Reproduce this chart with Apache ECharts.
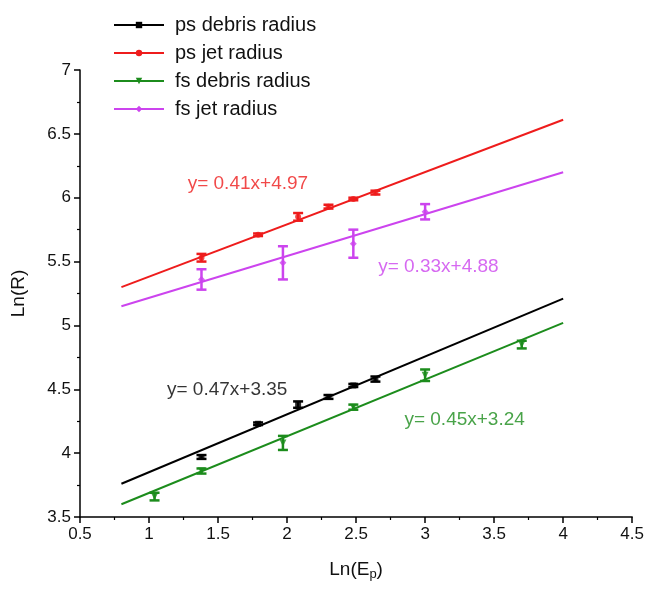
<!DOCTYPE html>
<html>
<head>
<meta charset="utf-8">
<script src="https://cdn.jsdelivr.net/npm/echarts@6/dist/echarts.min.js"></script>
<style>
  html, body { margin: 0; padding: 0; background: #fff; }
  #chart { width: 647px; height: 589px; }
</style>
</head>
<body>
<div id="chart"></div>
<script>
const chart = echarts.init(document.getElementById('chart'))

// measured points: x, y, error (+/-)
const psDebrisX = [1.38, 1.79, 2.08, 2.30, 2.48, 2.64]
const psDebrisY = [3.97, 4.23, 4.38, 4.44, 4.53, 4.58]
const psDebrisErr = [0.015, 0.01, 0.025, 0.015, 0.012, 0.02]

const psJetX = [1.38, 1.79, 2.08, 2.30, 2.48, 2.64]
const psJetY = [5.53, 5.71, 5.85, 5.93, 5.99, 6.04]
const psJetErr = [0.03, 0.01, 0.03, 0.015, 0.01, 0.015]

const fsDebrisX = [1.04, 1.38, 1.97, 2.48, 3.00, 3.70]
const fsDebrisY = [3.66, 3.86, 4.08, 4.36, 4.61, 4.85]
const fsDebrisErr = [0.03, 0.02, 0.055, 0.02, 0.045, 0.03]

const fsJetX = [1.38, 1.97, 2.48, 3.00]
const fsJetY = [5.36, 5.49, 5.64, 5.89]
const fsJetErr = [0.08, 0.13, 0.11, 0.06]

// fitted lines, endpoints
const fitX = [0.8, 4.0]
const psDebrisFit = [3.76, 5.21]
const psJetFit = [5.30, 6.61]
const fsDebrisFit = [3.60, 5.02]
const fsJetFit = [5.15, 6.20]

const fitLabels = ['y= 0.47x+3.35', 'y= 0.41x+4.97', 'y= 0.45x+3.24', 'y= 0.33x+4.88']
// label anchor points in data coords (left edge, vertical middle)
const labelPos = [[1.13, 4.50], [1.28, 6.11], [2.85, 4.26], [2.66, 5.46]]

const names = ['ps debris radius', 'ps jet radius', 'fs debris radius', 'fs jet radius']
const colors = ['#000000', '#ee1c1c', '#1c8c1c', '#cc44ee']
const symbols = ['rect', 'circle', 'path://M0,0L10,0L5,10Z', 'diamond']
const symSizes = [6, 6, 7, 7]

const sets = [
  [psDebrisX, psDebrisY, psDebrisErr, psDebrisFit],
  [psJetX, psJetY, psJetErr, psJetFit],
  [fsDebrisX, fsDebrisY, fsDebrisErr, fsDebrisFit],
  [fsJetX, fsJetY, fsJetErr, fsJetFit]
]

const font = 'Liberation Sans'
const series = []

sets.forEach(([xs, ys, errs, fit], i) => {
  series.push({
    name: names[i],
    type: 'line',
    data: fitX.map((x, k) => [x, fit[k]]),
    symbol: symbols[i],
    symbolSize: symSizes[i],
    showSymbol: false,
    lineStyle: { color: colors[i], width: 2 },
    itemStyle: { color: colors[i] },
    silent: true,
    z: 2
  })
  series.push({
    name: names[i],
    type: 'scatter',
    data: xs.map((x, k) => [x, ys[k]]),
    symbol: symbols[i],
    symbolSize: symSizes[i],
    itemStyle: { color: colors[i] },
    z: 4
  })
  series.push({
    name: names[i],
    type: 'custom',
    data: xs.map((x, k) => [x, ys[k] - errs[k], ys[k] + errs[k]]),
    renderItem: function (params, api) {
      const lo = api.coord([api.value(0), api.value(1)])
      const hi = api.coord([api.value(0), api.value(2)])
      const w = 5
      const st = { stroke: colors[i], lineWidth: 2.5 }
      return {
        type: 'group',
        children: [
          { type: 'line', shape: { x1: lo[0], y1: lo[1], x2: hi[0], y2: hi[1] }, style: st },
          { type: 'line', shape: { x1: lo[0] - w, y1: lo[1], x2: lo[0] + w, y2: lo[1] }, style: st },
          { type: 'line', shape: { x1: hi[0] - w, y1: hi[1], x2: hi[0] + w, y2: hi[1] }, style: st }
        ]
      }
    },
    z: 3
  })
  series.push({
    type: 'scatter',
    data: [labelPos[i]],
    symbolSize: 0,
    silent: true,
    label: {
      show: true,
      position: 'right',
      distance: 0,
      formatter: fitLabels[i],
      color: colors[i],
      fontFamily: font,
      fontSize: 19
    }
  })
})

chart.setOption({
  backgroundColor: '#ffffff',
  animation: false,
  grid: { left: 80, right: 13, top: 70, bottom: 72 },
  legend: {
    data: names,
    orient: 'vertical',
    left: 108,
    top: 10,
    itemWidth: 50,
    itemHeight: 8,
    itemGap: 8,
    textStyle: { fontFamily: font, fontSize: 20, color: '#111', padding: [0, 0, 0, 6] }
  },
  xAxis: {
    type: 'value',
    min: 0.5,
    max: 4.5,
    interval: 0.5,
    name: '{a|Ln(E}{b|p}{a|)}',
    nameLocation: 'middle',
    nameGap: 41,
    nameTextStyle: {
      rich: {
        a: { fontFamily: font, fontSize: 19, color: '#111' },
        b: { fontFamily: font, fontSize: 13, color: '#111', verticalAlign: 'bottom', padding: [10, 0, 0, 0] }
      }
    },
    axisLine: { show: true, lineStyle: { color: '#000', width: 1.5 } },
    axisTick: { show: true, length: 6, lineStyle: { color: '#000', width: 1.5 } },
    minorTick: { show: true, splitNumber: 2, length: 3, lineStyle: { color: '#000', width: 1.2 } },
    axisLabel: { fontFamily: font, fontSize: 17, color: '#111', margin: 9 },
    splitLine: { show: false }
  },
  yAxis: {
    type: 'value',
    min: 3.5,
    max: 7,
    interval: 0.5,
    name: 'Ln(R)',
    nameLocation: 'middle',
    nameGap: 52,
    nameTextStyle: { fontFamily: font, fontSize: 19, color: '#111' },
    axisLine: { show: true, lineStyle: { color: '#000', width: 1.5 } },
    axisTick: { show: true, length: 6, lineStyle: { color: '#000', width: 1.5 } },
    minorTick: { show: true, splitNumber: 2, length: 3, lineStyle: { color: '#000', width: 1.2 } },
    axisLabel: { fontFamily: font, fontSize: 17, color: '#111', margin: 9 },
    splitLine: { show: false }
  },
  series: series
})
</script>
</body>
</html>
